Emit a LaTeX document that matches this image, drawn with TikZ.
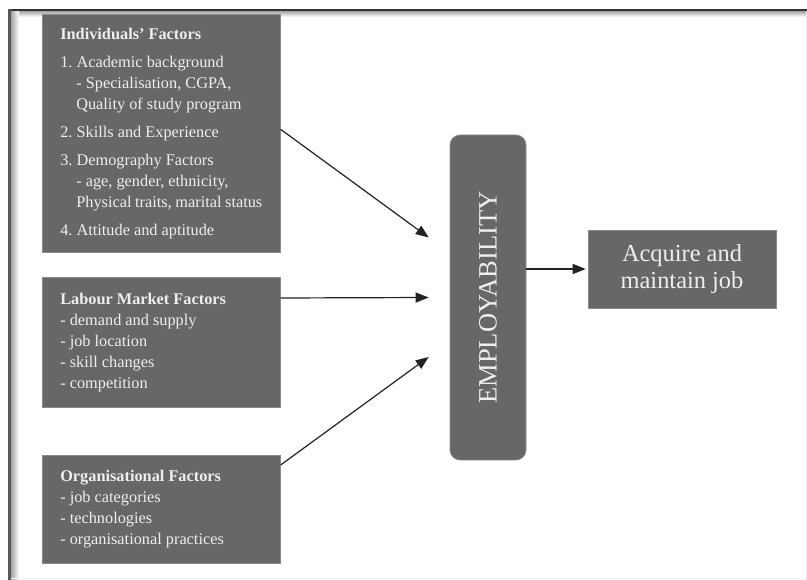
\documentclass[tikz,border=0pt]{standalone}
\usepackage{fontspec}
\setmainfont{Liberation Serif}
\usetikzlibrary{arrows.meta,calc}
\definecolor{boxgray}{HTML}{676767}
\definecolor{boxedge}{HTML}{8A8A8A}
\definecolor{txt}{HTML}{EEEEEE}
\definecolor{arr}{HTML}{222222}
\newcommand\normsp{\frenchspacing\spaceskip=0pt\xspaceskip=0pt\relax}
\begin{document}
\begin{tikzpicture}[x=1pt,y=-1pt,
  factor/.style={fill=boxgray, draw=boxedge, line width=0.6pt, minimum width=238pt,
    text width=202pt, inner xsep=18pt, inner ysep=0pt, align=left, anchor=north west,
    text=txt, font=\fontsize{16.3}{21}\selectfont},
  empbox/.style={fill=boxgray, draw=boxedge, line width=0.6pt, rounded corners=10pt,
    minimum width=76pt, minimum height=325pt, inner sep=0pt, text=txt,
    font=\fontsize{26.5}{30}\selectfont},
  accbox/.style={fill=boxgray, draw=boxedge, line width=0.6pt, minimum width=188pt,
    minimum height=78pt, inner sep=0pt, align=center, text=txt,
    font=\fontsize{24.4}{27}\selectfont},
  conn/.style={draw=arr, line width=1.2pt, -{Triangle[length=13pt,width=10pt]}}]
\useasboundingbox (0,0) rectangle (807,580);
\fill[white] (0,0) rectangle (807,580);
% frame
\shade[top color=black!35, bottom color=white] (11,11.2) rectangle (807,17);
\shade[left color=black!35, right color=white] (11,11.2) rectangle (19,580);
\fill[black!80] (8,9.5) rectangle (807,11.2);
\fill[black!65] (8,9.5) rectangle (11,580);
\draw[black!8, line width=1pt] (806,11) -- (806,580);
\draw[black!6, line width=1pt] (11,578) -- (806,578);
% factor boxes
\node[factor, minimum height=238pt] (ind) at (42,14) {\normsp\textbf{Individuals' Factors}\\[7pt]
1. Academic background\\
\hspace*{16pt}- Specialisation, CGPA,\\
\hspace*{16pt}Quality of study program\\[7pt]
2. Skills and Experience\\[7pt]
3. Demography Factors\\
\hspace*{16pt}- age, gender, ethnicity,\\
\hspace*{16pt}Physical traits, marital status\\[7pt]
4. Attitude and aptitude};
\node[factor, minimum height=130pt] (lab) at (42,277) {\normsp\textbf{Labour Market Factors}\\
- demand and supply\\
- job location\\
- skill changes\\
- competition};
\node[factor, minimum height=108pt] (org) at (42,455) {\normsp\textbf{Organisational Factors}\\
- job categories\\
- technologies\\
- organisational practices};
% employability and outcome
\node[empbox] (emp) at (488,297.5) {\rotatebox{90}{EMPLOYABILITY}};
\node[accbox] (acq) at (682,269) {\normsp Acquire and\\maintain job};
% arrow targets
\coordinate (t1) at ($(emp.west)+(-21,-60)$);
\coordinate (t2) at ($(emp.west)+(-21,0)$);
\coordinate (t3) at ($(emp.west)+(-21,59.5)$);
\draw[conn] ($(ind.east)+(0,-4)$) -- (t1);
\draw[conn] ($(lab.north east)+(0,21)$) -- (t2);
\draw[conn] ($(org.north east)+(0,10)$) -- (t3);
\draw[conn, shorten >=2pt] (emp.east |- acq.west) -- (acq.west);
\end{tikzpicture}
\end{document}
